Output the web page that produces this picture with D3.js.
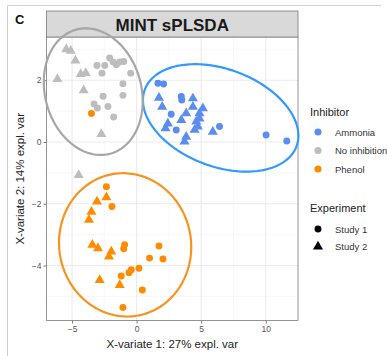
<!DOCTYPE html>
<html lang="en">
  <head>
    <meta charset="UTF-8" />
    <title>MINT sPLSDA</title>
    <script src="https://d3js.org/d3.v7.min.js"></script>
    <style>
      body {
        margin: 0;
        background: #fff;
      }
      svg text {
        font-family: "Liberation Sans", Arial, sans-serif;
      }
    </style>
  </head>
  <body>
    <div id="chart"></div>
    <script>
      // individuals: [x-variate 1, x-variate 2]
      const ammoniaStudy1 = [
        [1.65, 1.9], [2.09, 1.88], [3.46, 1.47], [3.5, 1.36], [2.68, 0.9],
        [3.07, 0.39], [6.42, 0.5], [10.03, 0.23], [11.63, 0.03]
      ];
      const ammoniaStudy2 = [
        [1.73, 1.43], [1.98, 1.14], [4.36, 1.41], [4.36, 1.14], [5.13, 1.09],
        [4.87, 0.93], [3.84, 0.93], [3.46, 0.71], [2.42, 0.6], [2.24, 0.44],
        [4.62, 0.66], [4.74, 0.5], [4.49, 0.39], [3.84, 0.17], [3.71, 0.01],
        [5.9, 0.33], [4.87, 0.76]
      ];
      const noInhibStudy1 = [
        [-3.07, 2.48], [-2.68, 2.23], [-2.47, 2.48], [-2.09, 2.72], [-1.83, 2.59],
        [-1.57, 2.5], [-1.31, 2.59], [-1.0, 2.61], [-0.46, 2.23], [-1.06, 1.89],
        [-2.6, 1.48], [-1.06, 1.51], [-3.3, 1.23], [-3.04, 1.1], [-2.22, 1.15],
        [-1.78, 0.81]
      ];
      const noInhibStudy2 = [
        [-5.45, 3.0], [-5.1, 2.95], [-4.74, 2.64], [-6.13, 2.04], [-4.33, 2.2],
        [-3.94, 2.23], [-4.1, 1.67], [-2.73, 0.26], [-4.49, -1.07]
      ];
      const phenolStudy1 = [
        [-3.5, 0.92], [-2.34, -1.45], [-1.91, -2.09], [-0.93, -3.33], [-1.0, -3.46],
        [1.73, -3.37], [2.04, -3.79], [1.0, -3.76], [0.18, -4.09], [-0.41, -4.14],
        [-0.59, -4.23], [-1.19, -4.34], [0.44, -4.79], [-1.06, -5.36]
      ];
      const phenolStudy2 = [
        [-2.34, -1.79], [-3.07, -1.93], [-3.5, -2.26], [-3.69, -2.52], [-3.43, -3.33],
        [-2.99, -3.44], [-1.96, -3.55], [-2.14, -3.71], [-2.86, -4.47], [-1.31, -4.63]
      ];

      const inhibitors = ["Ammonia", "No inhibition", "Phenol"];
      const studies = ["Study 1", "Study 2"];
      const pointColors = ["#5b8def", "#bdbdbd", "#ff8c00"];
      const ellipseColors = ["#3399ff", "#a6a6a6", "#f7931e"];

      // confidence ellipses: centre, half ranges and correlation
      const ellipseCenter = [[6.51, 0.78], [-3.36, 1.63], [-0.89, -3.33]];
      const ellipseHalf = [[6.02, 1.74], [3.83, 2.05], [5.12, 2.32]];
      const ellipseRho = [-0.33, -0.15, -0.03];

      const xTicks = [-5, 0, 5, 10];
      const yTicks = [-4, -2, 0, 2];
      const xMinor = [-2.5, 2.5, 7.5];
      const yMinor = [-5, -3, -1, 1, 3];

      const groups = [
        [ammoniaStudy1, ammoniaStudy2],
        [noInhibStudy1, noInhibStudy2],
        [phenolStudy1, phenolStudy2]
      ];

      const W = 387, H = 356;
      const panel = {left: 46.5, right: 298, top: 37, bottom: 320.5};

      const svg = d3
        .select("#chart")
        .append("svg")
        .attr("width", W)
        .attr("height", H);

      // frame of the figure
      svg.append("line").attr("x1", 7.5).attr("x2", 381).attr("y1", 5.5).attr("y2", 5.5)
        .attr("stroke", "#cfcfcf");
      svg.append("line").attr("x1", 7.5).attr("x2", 7.5).attr("y1", 5.5).attr("y2", H)
        .attr("stroke", "#cfcfcf");

      svg.append("text").attr("x", 15).attr("y", 24).attr("font-size", "13px")
        .attr("font-weight", "bold").attr("fill", "#111").text("C");

      const x = d3.scaleLinear().domain([-6.98, 12.5]).range([panel.left, panel.right]);
      const y = d3.scaleLinear().domain([-5.78, 3.4]).range([panel.bottom, panel.top]);

      // grid
      const grid = svg.append("g");
      xMinor.forEach((v) => {
        grid.append("line").attr("x1", x(v)).attr("x2", x(v))
          .attr("y1", panel.top).attr("y2", panel.bottom)
          .attr("stroke", "#f4f4f4").attr("stroke-width", 0.6);
      });
      yMinor.forEach((v) => {
        grid.append("line").attr("y1", y(v)).attr("y2", y(v))
          .attr("x1", panel.left).attr("x2", panel.right)
          .attr("stroke", "#f4f4f4").attr("stroke-width", 0.6);
      });
      xTicks.forEach((v) => {
        grid.append("line").attr("x1", x(v)).attr("x2", x(v))
          .attr("y1", panel.top).attr("y2", panel.bottom)
          .attr("stroke", "#ebebeb").attr("stroke-width", 1.1);
      });
      yTicks.forEach((v) => {
        grid.append("line").attr("y1", y(v)).attr("y2", y(v))
          .attr("x1", panel.left).attr("x2", panel.right)
          .attr("stroke", "#ebebeb").attr("stroke-width", 1.1);
      });

      svg.append("rect")
        .attr("x", panel.left).attr("y", panel.top)
        .attr("width", panel.right - panel.left).attr("height", panel.bottom - panel.top)
        .attr("fill", "none").attr("stroke", "#7a7a7a").attr("stroke-width", 0.8);

      // strip
      svg.append("rect")
        .attr("x", panel.left).attr("y", 11)
        .attr("width", panel.right - panel.left).attr("height", panel.top - 11)
        .attr("fill", "#d9d9d9").attr("stroke", "#7a7a7a").attr("stroke-width", 0.8);
      svg.append("text")
        .attr("x", (panel.left + panel.right) / 2).attr("y", 30.5)
        .attr("text-anchor", "middle").attr("font-size", "17px").attr("font-weight", "bold")
        .attr("fill", "#1a1a1a").text("MINT sPLSDA");

      // axes
      const xAxis = svg.append("g")
        .attr("transform", `translate(0,${panel.bottom})`)
        .call(d3.axisBottom(x).tickValues(xTicks).tickSize(3).tickPadding(2));
      const yAxis = svg.append("g")
        .attr("transform", `translate(${panel.left},0)`)
        .call(d3.axisLeft(y).tickValues(yTicks).tickSize(3).tickPadding(2));
      [xAxis, yAxis].forEach((a) => {
        a.select(".domain").remove();
        a.selectAll(".tick line").attr("stroke", "#7a7a7a");
        a.selectAll(".tick text").attr("fill", "#555").attr("font-size", "8.5px")
          .attr("font-family", "'Liberation Sans', Arial, sans-serif");
      });

      svg.append("text")
        .attr("x", (panel.left + panel.right) / 2).attr("y", 348)
        .attr("text-anchor", "middle").attr("font-size", "11.5px").attr("fill", "#222")
        .text("X-variate 1: 27% expl. var");
      svg.append("text")
        .attr("transform", `translate(24,${(panel.top + panel.bottom) / 2}) rotate(-90)`)
        .attr("text-anchor", "middle").attr("font-size", "11.5px").attr("fill", "#222")
        .text("X-variate 2: 14% expl. var");

      // ellipses
      const ellipseLine = d3.line().x((d) => x(d[0])).y((d) => y(d[1])).curve(d3.curveLinearClosed);
      inhibitors.forEach((name, i) => {
        const [cx, cy] = ellipseCenter[i];
        const [hx, hy] = ellipseHalf[i];
        const rho = ellipseRho[i];
        const pts = d3.range(0, 2 * Math.PI, Math.PI / 90).map((t) => [
          cx + hx * Math.cos(t),
          cy + hy * (rho * Math.cos(t) - Math.sqrt(1 - rho * rho) * Math.sin(t))
        ]);
        svg.append("path").attr("d", ellipseLine(pts))
          .attr("fill", "none").attr("stroke", ellipseColors[i]).attr("stroke-width", 2.2);
      });

      // points
      const symbols = [d3.symbolCircle, d3.symbolTriangle];
      const symbolSizes = [38, 44];
      groups.forEach((g, i) => {
        g.forEach((pts, s) => {
          svg.append("g").selectAll("path")
            .data(pts)
            .enter()
            .append("path")
            .attr("transform", (d) => `translate(${x(d[0])},${y(d[1])})`)
            .attr("d", d3.symbol().type(symbols[s]).size(symbolSizes[s]))
            .attr("fill", pointColors[i]);
        });
      });

      // legend
      const legend = svg.append("g").attr("transform", "translate(310,0)");
      legend.append("text").attr("x", 0).attr("y", 115.5).attr("font-size", "11px")
        .attr("fill", "#222").text("Inhibitor");
      inhibitors.forEach((name, i) => {
        const ly = 132 + i * 18.5;
        legend.append("path").attr("transform", `translate(8,${ly})`)
          .attr("d", d3.symbol().type(d3.symbolCircle).size(40)).attr("fill", pointColors[i]);
        legend.append("text").attr("x", 25).attr("y", ly + 3.5).attr("font-size", "9.5px")
          .attr("fill", "#333").text(name);
      });
      legend.append("text").attr("x", 0).attr("y", 212).attr("font-size", "11px")
        .attr("fill", "#222").text("Experiment");
      studies.forEach((name, s) => {
        const ly = 229 + s * 17.5;
        legend.append("path").attr("transform", `translate(8,${ly})`)
          .attr("d", d3.symbol().type(symbols[s]).size(symbolSizes[s])).attr("fill", "#000");
        legend.append("text").attr("x", 25).attr("y", ly + 3.5).attr("font-size", "9.5px")
          .attr("fill", "#333").text(name);
      });
    </script>
  </body>
</html>
